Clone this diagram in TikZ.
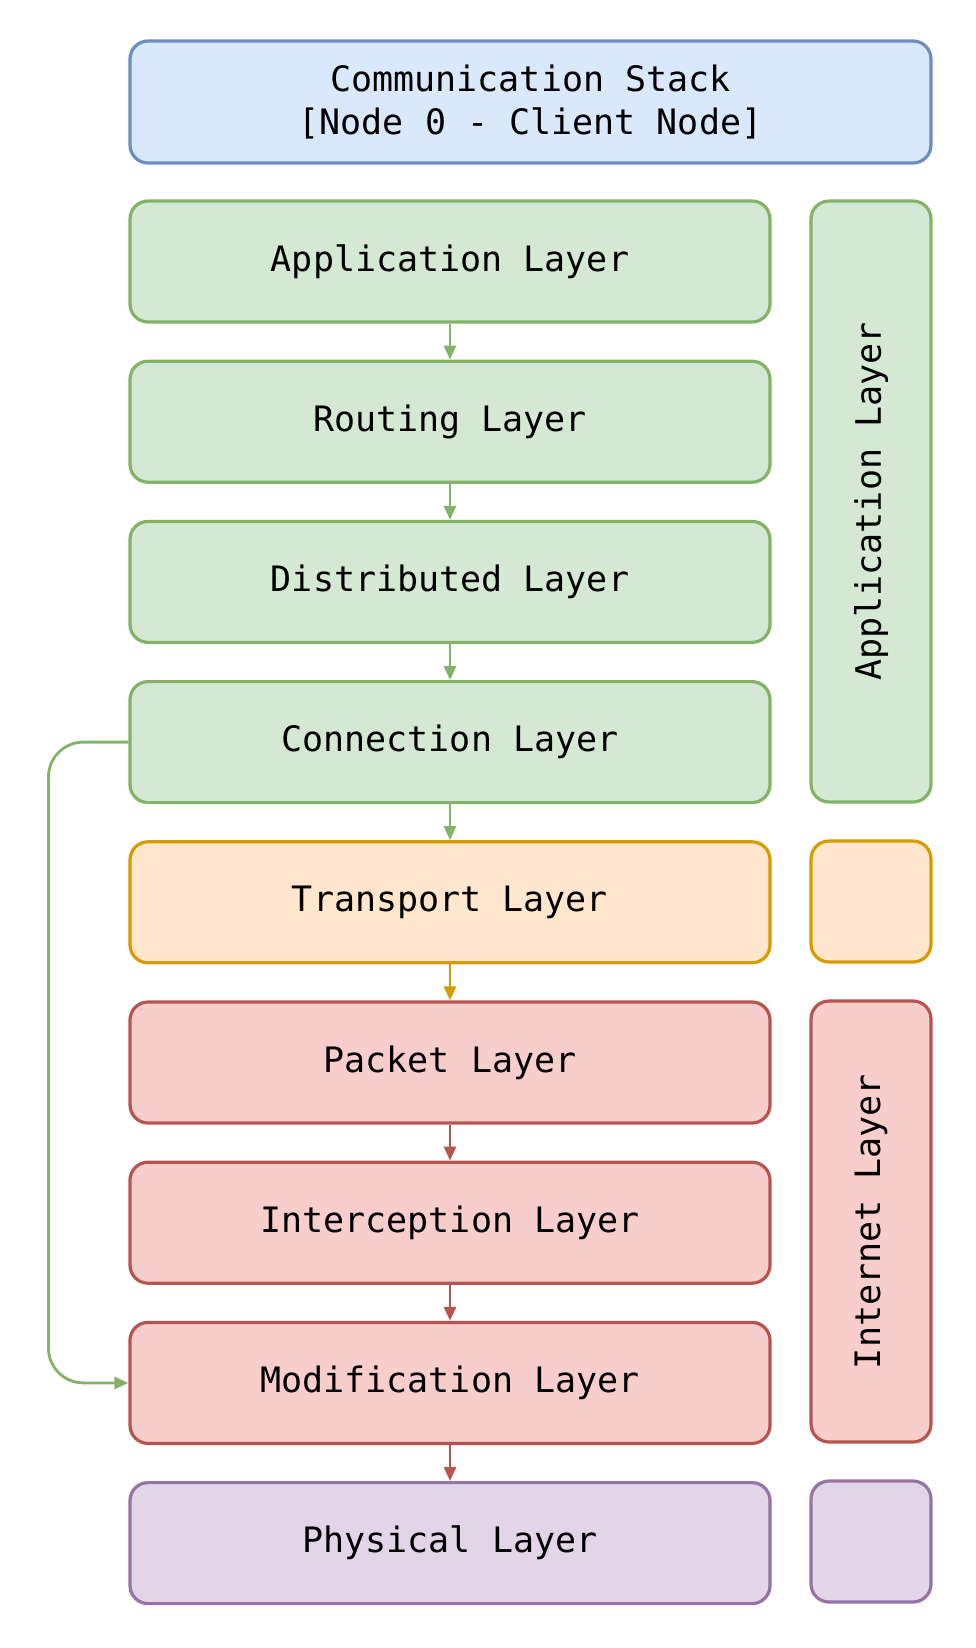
\documentclass[tikz,border=0pt]{standalone}
\usepackage{fontspec}
\setmonofont{DejaVu Sans Mono}
\usetikzlibrary{arrows.meta,positioning}

\definecolor{blueFill}{HTML}{DAE8FC}
\definecolor{blueLine}{HTML}{6C8EBF}
\definecolor{greenFill}{HTML}{D5E8D4}
\definecolor{greenLine}{HTML}{82B366}
\definecolor{orangeFill}{HTML}{FFE6CC}
\definecolor{orangeLine}{HTML}{D79B00}
\definecolor{redFill}{HTML}{F8CECC}
\definecolor{redLine}{HTML}{B85450}
\definecolor{purpleFill}{HTML}{E1D5E7}
\definecolor{purpleLine}{HTML}{9673A6}

\begin{document}
\begin{tikzpicture}[x=1pt,y=-1pt,
    font=\ttfamily\fontsize{35}{43}\selectfont,
    node distance=36pt,
    >={Triangle[length=14pt,width=12pt]},
    box/.style={draw, rounded corners=18pt, line width=3.2pt, inner sep=0pt, align=center},
    layer/.style={box, minimum width=640pt, minimum height=121pt},
    side/.style={box, rotate=90, minimum height=120pt},
    green/.style={fill=greenFill, draw=greenLine},
    orange/.style={fill=orangeFill, draw=orangeLine},
    red/.style={fill=redFill, draw=redLine},
    purple/.style={fill=purpleFill, draw=purpleLine},
    link/.style={->, line width=2.8pt}]
  \useasboundingbox (0,0) rectangle (976,1648);

  \node[box, fill=blueFill, draw=blueLine, minimum width=801pt, minimum height=122pt]
    (stack) at (530.5,102) {Communication Stack\\{[}Node 0 - Client Node{]}};

  % main stack
  \node[layer, green] (application) at (450,261.5) {Application Layer};
  \node[layer, green, below=of application] (routing) {Routing Layer};
  \node[layer, green, below=of routing] (distributed) {Distributed Layer};
  \node[layer, green, below=of distributed] (connection) {Connection Layer};
  \node[layer, orange, below=of connection] (transport) {Transport Layer};
  \node[layer, red, below=of transport] (packet) {Packet Layer};
  \node[layer, red, below=of packet] (interception) {Interception Layer};
  \node[layer, red, below=of interception] (modification) {Modification Layer};
  \node[layer, purple, below=of modification] (physical) {Physical Layer};

  % side columns
  \node[side, green, minimum width=601pt] (appside) at (871,501.5) {Application Layer};
  \node[side, orange, minimum width=121pt] (transside) at (871,901.5) {};
  \node[side, red, minimum width=441pt] (netside) at (871,1221.5) {Internet Layer};
  \node[side, purple, minimum width=121pt] (physside) at (871,1541.5) {};

  \draw[link, greenLine] (application) -- (routing);
  \draw[link, greenLine] (routing) -- (distributed);
  \draw[link, greenLine] (distributed) -- (connection);
  \draw[link, greenLine] (connection) -- (transport);
  \draw[link, orangeLine] (transport) -- (packet);
  \draw[link, redLine] (packet) -- (interception);
  \draw[link, redLine] (interception) -- (modification);
  \draw[link, redLine] (modification) -- (physical);
  \draw[link, greenLine, rounded corners=35pt] (connection.west) -- ++(-80,0) |- (modification.west);
\end{tikzpicture}
\end{document}
